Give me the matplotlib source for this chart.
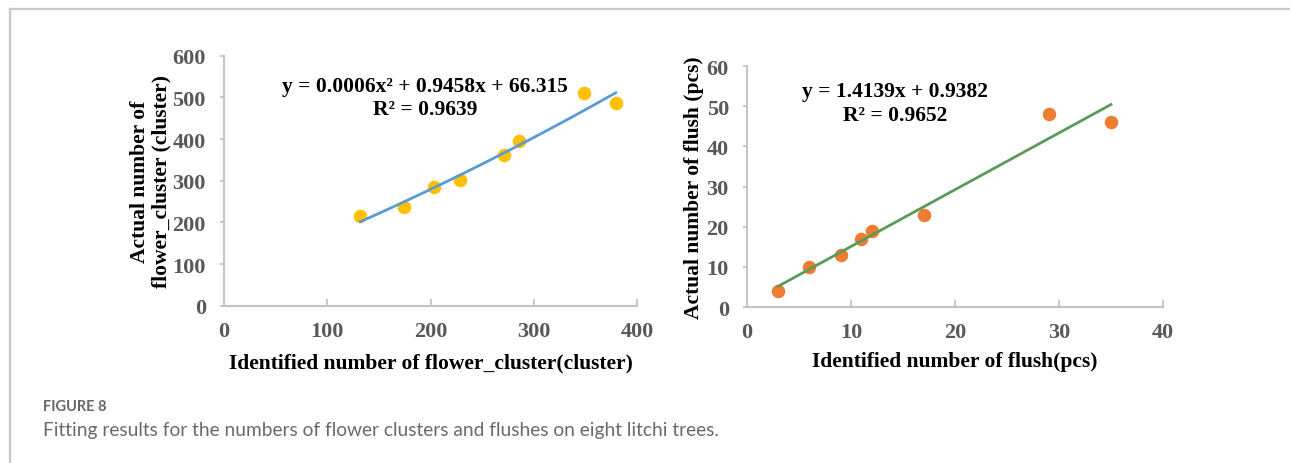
import matplotlib.pyplot as plt
import numpy as np
from matplotlib.lines import Line2D

# flower cluster data (identified vs actual)
cluster_x = [132, 174, 203, 228, 271, 285, 348, 379]
cluster_y = [216, 236, 286, 301, 362, 396, 510, 486]
cluster_fit = [0.0006, 0.9458, 66.315]  # quadratic coefficients

# flush data (identified vs actual)
flush_x = [3, 6, 9, 11, 12, 17, 29, 35]
flush_y = [4, 10, 13, 17, 19, 23, 48, 46]
flush_fit = [1.4139, 0.9382]  # linear coefficients

serif = 'Liberation Serif'
tick_col = '#595959'
spine_col = '#C4C4C4'
lab_fs = 15.5
eq_fs = 15.5

fig = plt.figure(figsize=(12.9, 4.64), dpi=100)

# page frame lines (top and left)
fig.add_artist(Line2D([0.0075, 1.0], [0.978, 0.978], color='#C8C8C8', lw=1.6))
fig.add_artist(Line2D([0.0075, 0.0075], [0.0, 0.978], color='#C8C8C8', lw=1.6))


def style_axes(ax):
    for s in ['top', 'right']:
        ax.spines[s].set_visible(False)
    for s in ['left', 'bottom']:
        ax.spines[s].set_color(spine_col)
        ax.spines[s].set_linewidth(1.5)
    ax.tick_params(axis='x', direction='in', length=5, width=1.3, color=spine_col, pad=11)
    ax.tick_params(axis='y', direction='out', length=3, width=1.3, color=spine_col, pad=10)
    for lab in ax.get_xticklabels() + ax.get_yticklabels():
        lab.set_fontfamily(serif)
        lab.set_fontweight('bold')
        lab.set_fontsize(16)
        lab.set_color(tick_col)


# ---- left chart: flower clusters ----
ax1 = fig.add_axes([0.1736, 0.339, 0.3205, 0.5388])
ax1.scatter(cluster_x, cluster_y, s=95, color='#FFC000', zorder=3, linewidths=0)
xs = np.linspace(min(cluster_x), max(cluster_x), 100)
ax1.plot(xs, np.polyval(cluster_fit, xs), color='#5B9BD5', lw=2, zorder=4)
ax1.set_xlim(0, 400)
ax1.set_ylim(0, 600)
ax1.set_xticks([0, 100, 200, 300, 400])
ax1.set_yticks([0, 100, 200, 300, 400, 500, 600])
style_axes(ax1)
ax1.set_xlabel('Identified number of flower_cluster(cluster)', fontfamily=serif,
               fontweight='bold', fontsize=lab_fs, labelpad=8)
ax1.set_ylabel('Actual number of\nflower_cluster (cluster)', fontfamily=serif,
               fontweight='bold', fontsize=lab_fs, labelpad=1, linespacing=1.1)
ax1.text(0.486, 0.878, 'y = 0.0006x\u00b2 + 0.9458x + 66.315', transform=ax1.transAxes,
         ha='center', va='center', fontfamily=serif, fontweight='bold', fontsize=eq_fs)
ax1.text(0.486, 0.785, 'R\u00b2 = 0.9639', transform=ax1.transAxes,
         ha='center', va='center', fontfamily=serif, fontweight='bold', fontsize=eq_fs)

# ---- right chart: flushes ----
ax2 = fig.add_axes([0.579, 0.336, 0.3226, 0.5196])
ax2.scatter(flush_x, flush_y, s=95, color='#ED7D31', zorder=3, linewidths=0)
xs2 = np.array([min(flush_x), max(flush_x)])
ax2.plot(xs2, np.polyval(flush_fit, xs2), color='#5A9A5A', lw=2, zorder=4)
ax2.set_xlim(0, 40)
ax2.set_ylim(0, 60)
ax2.set_xticks([0, 10, 20, 30, 40])
ax2.set_yticks([0, 10, 20, 30, 40, 50, 60])
style_axes(ax2)
ax2.set_xlabel('Identified number of flush(pcs)', fontfamily=serif,
               fontweight='bold', fontsize=lab_fs, labelpad=6)
ax2.set_ylabel('Actual number of flush (pcs)', fontfamily=serif,
               fontweight='bold', fontsize=lab_fs, labelpad=2)
ax2.text(0.355, 0.895, 'y = 1.4139x + 0.9382', transform=ax2.transAxes,
         ha='center', va='center', fontfamily=serif, fontweight='bold', fontsize=eq_fs)
ax2.text(0.355, 0.795, 'R\u00b2 = 0.9652', transform=ax2.transAxes,
         ha='center', va='center', fontfamily=serif, fontweight='bold', fontsize=eq_fs)

# caption
fig.text(0.0333, 0.123, 'FIGURE 8', fontfamily='Lato', fontweight='bold', fontsize=10.5,
         color='#666666', va='center')
fig.text(0.0333, 0.072, 'Fitting results for the numbers of flower clusters and flushes on eight litchi trees.',
         fontfamily='Lato', fontsize=13.8, color='#6A6A6A', va='center')

fig.savefig('out.png', dpi=100)
